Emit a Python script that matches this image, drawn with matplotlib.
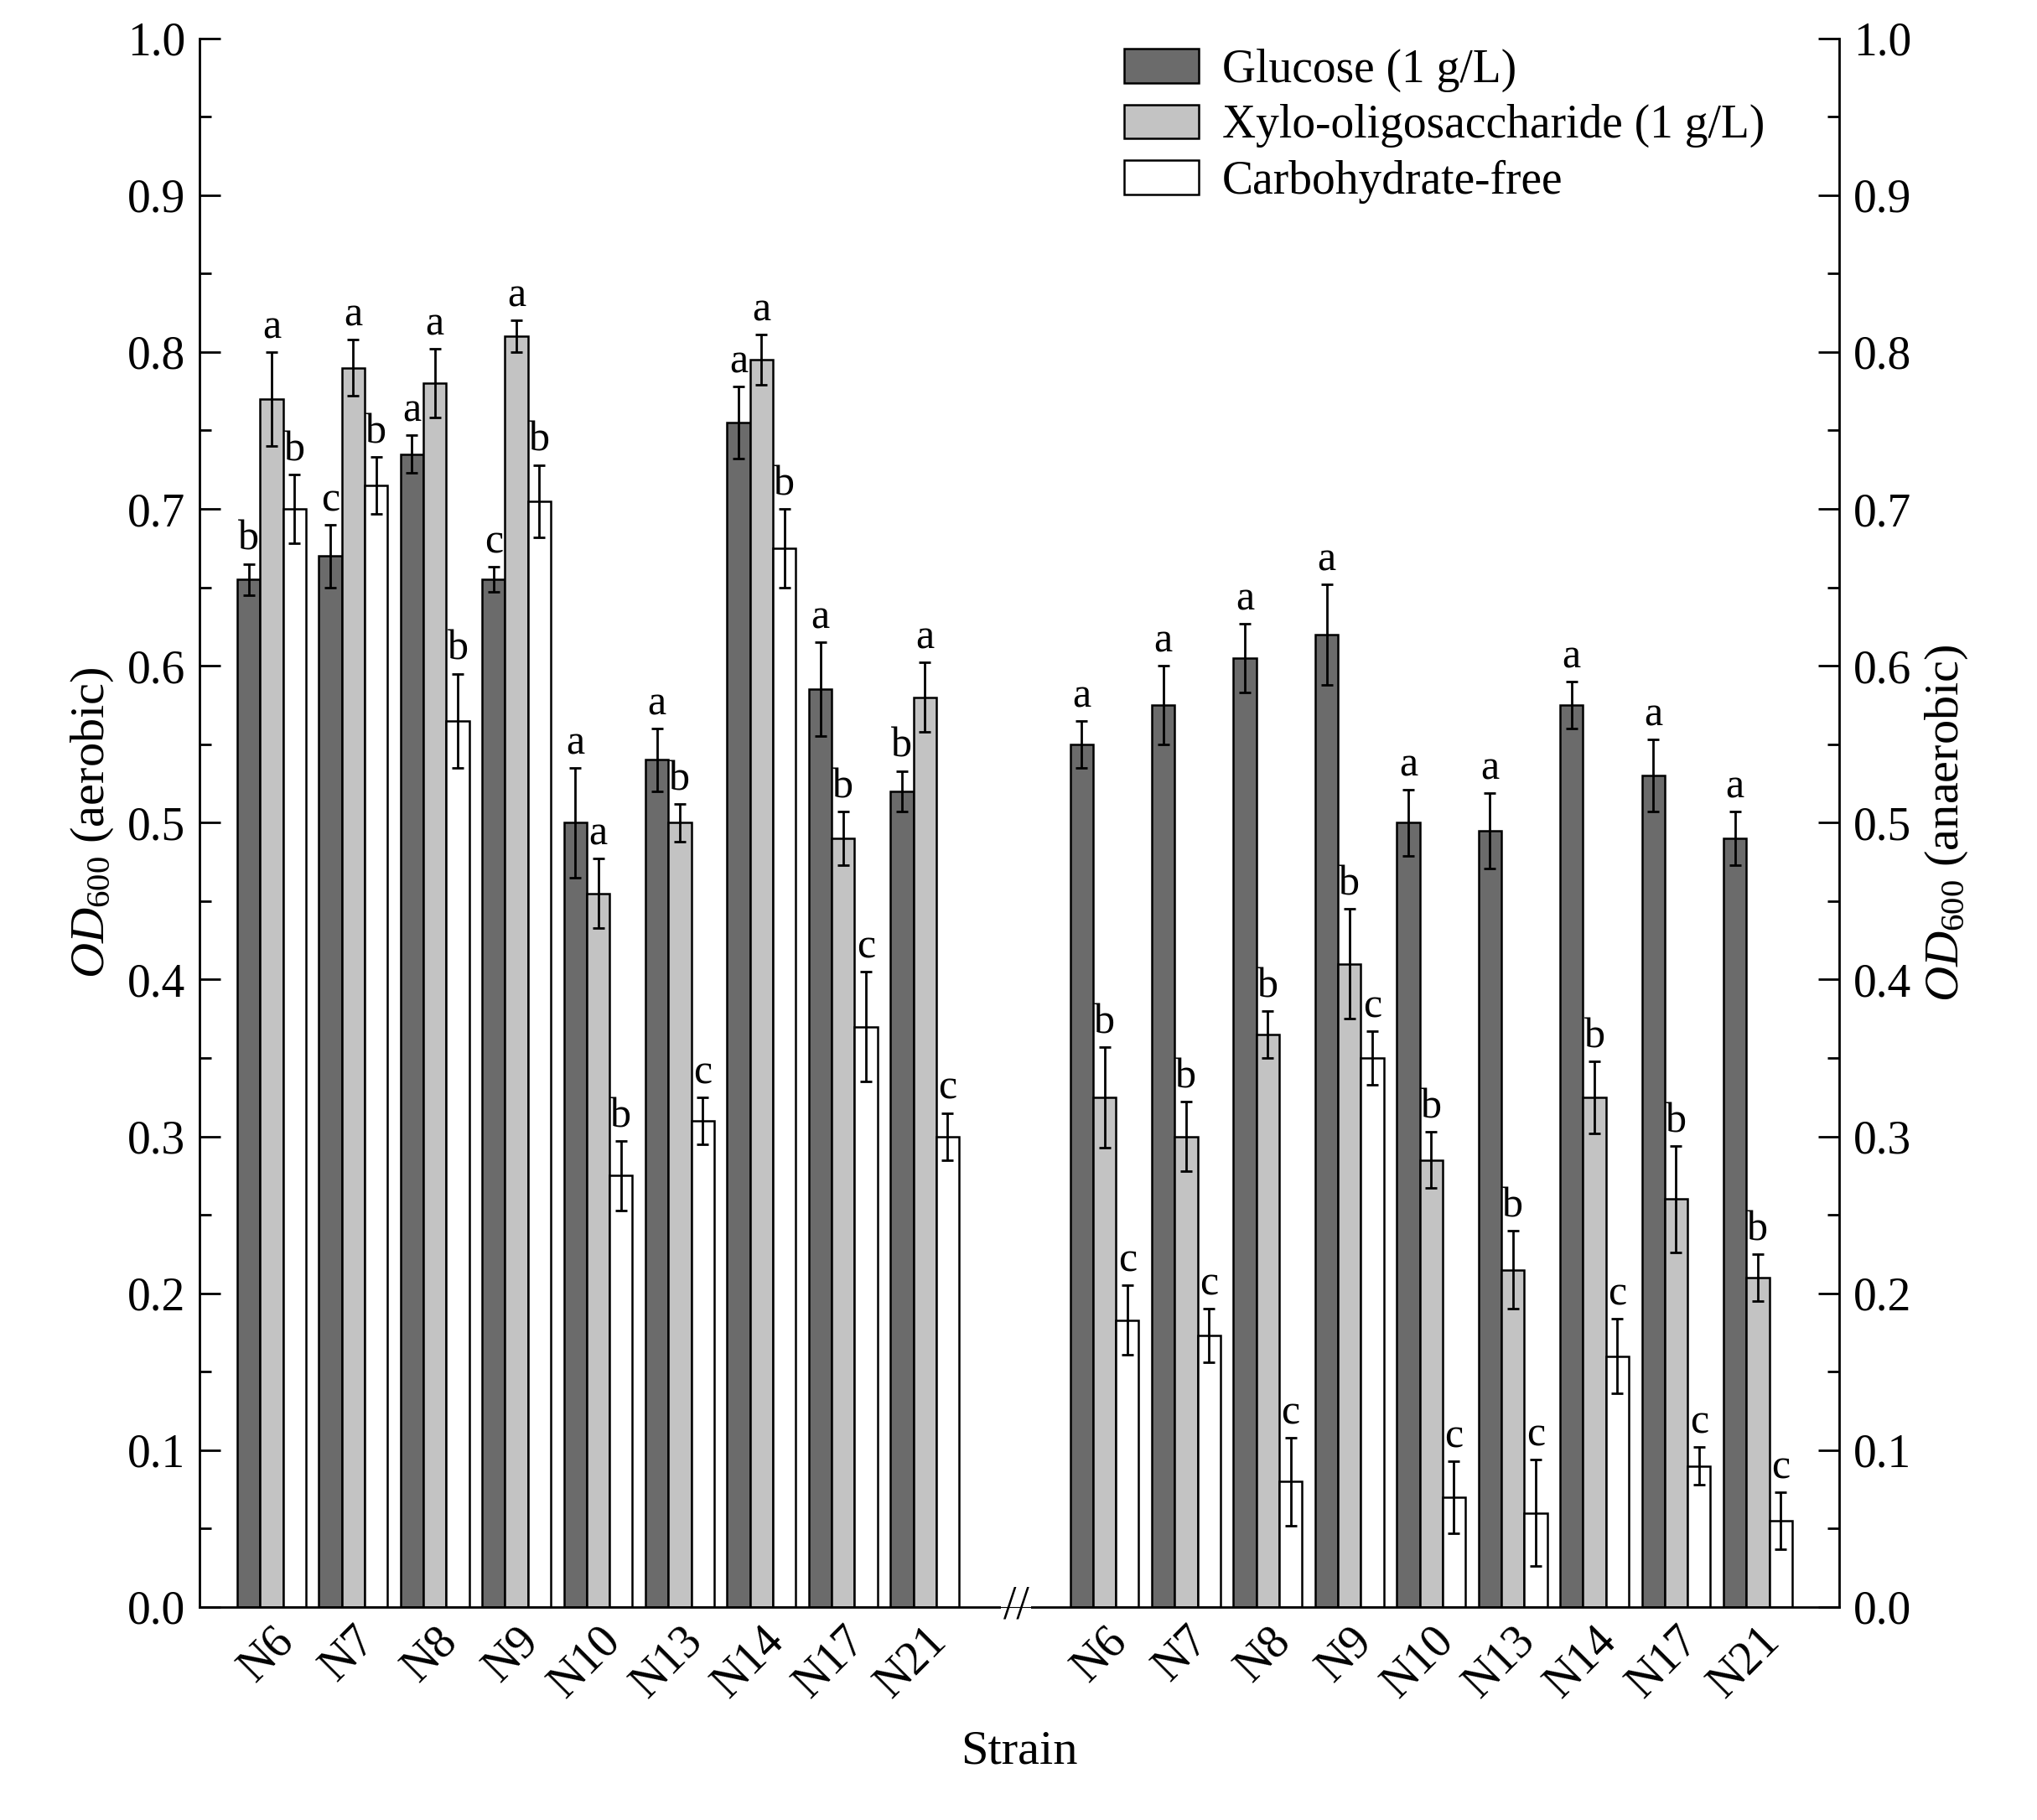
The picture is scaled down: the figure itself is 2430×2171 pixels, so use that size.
import numpy as np
import matplotlib.pyplot as plt
from matplotlib.ticker import MultipleLocator

plt.rcParams['font.family'] = ['Liberation Serif', 'DejaVu Serif']
plt.rcParams['mathtext.fontset'] = 'custom'
plt.rcParams['mathtext.it'] = 'Liberation Serif:italic'
plt.rcParams['mathtext.rm'] = 'Liberation Serif'

strains = ['N6', 'N7', 'N8', 'N9', 'N10', 'N13', 'N14', 'N17', 'N21']

# aerobic
aer_glu = [0.655, 0.67, 0.735, 0.655, 0.50, 0.54, 0.755, 0.585, 0.52]
aer_glu_err = [0.010, 0.020, 0.012, 0.008, 0.035, 0.020, 0.023, 0.030, 0.013]
aer_glu_let = ['b', 'c', 'a', 'c', 'a', 'a', 'a', 'a', 'b']
aer_xos = [0.77, 0.79, 0.78, 0.81, 0.455, 0.50, 0.795, 0.49, 0.58]
aer_xos_err = [0.030, 0.018, 0.022, 0.010, 0.022, 0.012, 0.016, 0.017, 0.022]
aer_xos_let = ['a', 'a', 'a', 'a', 'a', 'b', 'a', 'b', 'a']
aer_free = [0.70, 0.715, 0.565, 0.705, 0.275, 0.31, 0.675, 0.37, 0.30]
aer_free_err = [0.022, 0.018, 0.030, 0.023, 0.022, 0.015, 0.025, 0.035, 0.015]
aer_free_let = ['b', 'b', 'b', 'b', 'b', 'c', 'b', 'c', 'c']

# anaerobic
ana_glu = [0.55, 0.575, 0.605, 0.62, 0.50, 0.495, 0.575, 0.53, 0.49]
ana_glu_err = [0.015, 0.025, 0.022, 0.032, 0.021, 0.024, 0.015, 0.023, 0.017]
ana_glu_let = ['a'] * 9
ana_xos = [0.325, 0.30, 0.365, 0.41, 0.285, 0.215, 0.325, 0.26, 0.21]
ana_xos_err = [0.032, 0.022, 0.015, 0.035, 0.018, 0.025, 0.023, 0.034, 0.015]
ana_xos_let = ['b'] * 9
ana_free = [0.183, 0.173, 0.08, 0.35, 0.07, 0.06, 0.16, 0.09, 0.055]
ana_free_err = [0.022, 0.017, 0.028, 0.017, 0.023, 0.034, 0.024, 0.012, 0.018]
ana_free_let = ['c'] * 9

colors = ['#6b6b6b', '#c3c3c3', 'white']
labels = ['Glucose (1 g/L)', 'Xylo-oligosaccharide (1 g/L)', 'Carbohydrate-free']

fig = plt.figure(figsize=(24.3, 21.71), dpi=100)
ax = fig.add_axes([0.098, 0.117, 0.805, 0.862])

w = 0.28
offs = [-w, 0, w]
left_x = np.arange(9)
right_x = np.arange(9) + 10.2

groups = [
    (left_x, [aer_glu, aer_xos, aer_free], [aer_glu_err, aer_xos_err, aer_free_err],
     [aer_glu_let, aer_xos_let, aer_free_let]),
    (right_x, [ana_glu, ana_xos, ana_free], [ana_glu_err, ana_xos_err, ana_free_err],
     [ana_glu_let, ana_xos_let, ana_free_let]),
]
for gi, (xs, vals, errs, lets) in enumerate(groups):
    for k in range(3):
        ax.bar(xs + offs[k], vals[k], w, yerr=errs[k], color=colors[k], edgecolor='black',
               linewidth=1.8, capsize=5, error_kw=dict(elinewidth=2, capthick=2),
               label=labels[k] if gi == 0 else None)
        for x, v, e, t in zip(xs + offs[k], vals[k], errs[k], lets[k]):
            ax.text(x, v + e + 0.003, t, ha='center', va='bottom', fontsize=36)

ax.set_xlim(-0.88, 19.2)
ax.set_ylim(0, 1.0)
ax.yaxis.set_major_locator(MultipleLocator(0.1))
ax.yaxis.set_minor_locator(MultipleLocator(0.05))
ax.tick_params(axis='y', which='major', direction='in', length=18, width=2, labelsize=40, pad=12)
ax.tick_params(axis='y', which='minor', direction='in', length=10, width=2)
ax.set_xticks(np.concatenate([left_x, right_x]))
ax.set_xticklabels(strains + strains, rotation=45, ha='right', rotation_mode='anchor', fontsize=40)
ax.tick_params(axis='x', length=0, pad=10)
ax.spines['top'].set_visible(False)
for s in ['left', 'right', 'bottom']:
    ax.spines[s].set_linewidth(2)

ax2 = ax.twinx()
ax2.set_ylim(0, 1.0)
ax2.yaxis.set_major_locator(MultipleLocator(0.1))
ax2.yaxis.set_minor_locator(MultipleLocator(0.05))
ax2.yaxis.set_major_formatter(plt.FormatStrFormatter('%.1f'))
ax2.tick_params(axis='y', which='major', direction='in', length=18, width=2, labelsize=40, pad=12)
ax2.tick_params(axis='y', which='minor', direction='in', length=10, width=2)
ax2.spines['top'].set_visible(False)
ax.yaxis.set_major_formatter(plt.FormatStrFormatter('%.1f'))

ax.set_ylabel(r'$\mathit{OD}_{600}$ (aerobic)', fontsize=42, labelpad=10)
ax2.set_ylabel(r'$\mathit{OD}_{600}$ (anaerobic)', fontsize=42, labelpad=10)
ax.set_xlabel('Strain', fontsize=42, labelpad=20)

# axis break mark
ax.text(9.12, 0, '//', ha='center', va='center', fontsize=40, clip_on=False,
        bbox=dict(facecolor='white', edgecolor='none', pad=2))

leg = ax.legend(loc='upper right', bbox_to_anchor=(0.98, 1.02), fontsize=40, frameon=False,
                handlelength=1.6, handleheight=0.75, labelspacing=0.25, handletextpad=0.5)

fig.savefig('out.png', dpi=100)
